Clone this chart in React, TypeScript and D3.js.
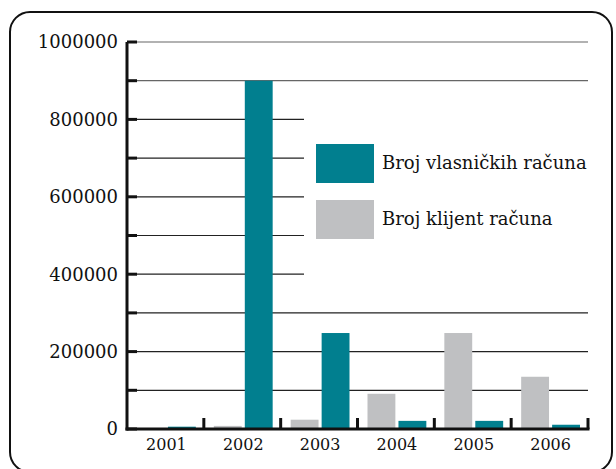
import { useEffect, useRef } from 'react';
import * as d3 from 'd3';

const years = ['2001', '2002', '2003', '2004', '2005', '2006'];
const klijent = [0, 8000, 24000, 91000, 248000, 135000];
const vlasnicki = [6000, 900000, 248000, 21000, 21000, 11000];
const yTicks = [0, 200000, 400000, 600000, 800000, 1000000];
const seriesNames = ['Broj vlasničkih računa', 'Broj klijent računa'];

const TEAL = '#017f8f';
const GREY = '#bfc0c2';

export default function App() {
    const svgRef = useRef<SVGSVGElement>(null);

    useEffect(() => {
        if (!svgRef.current) return;
        const svg = d3.select(svgRef.current);
        svg.selectAll('*').remove();

        const width = 616;
        const height = 469;
        const left = 127, right = 588, top = 42, bottom = 429;
        const font = 'DejaVu Serif';

        svg.attr('width', width).attr('height', height);

        // frame
        svg.append('rect')
            .attr('x', 10).attr('y', 12)
            .attr('width', 602).attr('height', 460)
            .attr('rx', 20)
            .attr('fill', 'white')
            .attr('stroke', '#111')
            .attr('stroke-width', 2);

        const y = d3.scaleLinear().domain([0, 1000000]).range([bottom, top]);
        const x = d3.scaleBand().domain(years).range([left, right]);
        const inner = d3.scaleBand().domain(['k', 'v'])
            .range([10, x.bandwidth() - 8]).paddingInner(0.1);

        // gridlines every 100000
        const grid = d3.range(100000, 1000001, 100000);
        svg.append('g').selectAll('line').data(grid).join('line')
            .attr('x1', left).attr('x2', right)
            .attr('y1', d => y(d)).attr('y2', d => y(d))
            .attr('stroke', d => (d >= 900000 ? '#666' : '#222'))
            .attr('stroke-width', 1.2);

        // legend background hides the middle gridlines
        svg.append('rect')
            .attr('x', 304).attr('y', y(850000))
            .attr('width', right - 304 + 2).attr('height', y(350000) - y(850000))
            .attr('fill', 'white');

        // bars
        const g = svg.append('g');
        years.forEach((yr, i) => {
            const x0 = x(yr)!;
            g.append('rect')
                .attr('x', x0 + inner('k')!)
                .attr('y', y(klijent[i]))
                .attr('width', inner.bandwidth())
                .attr('height', bottom - y(klijent[i]))
                .attr('fill', GREY);
            g.append('rect')
                .attr('x', x0 + inner('v')!)
                .attr('y', y(vlasnicki[i]))
                .attr('width', inner.bandwidth())
                .attr('height', bottom - y(vlasnicki[i]))
                .attr('fill', TEAL);
        });

        // y axis
        svg.append('line')
            .attr('x1', left).attr('x2', left)
            .attr('y1', top).attr('y2', bottom + 1.5)
            .attr('stroke', '#111').attr('stroke-width', 3);
        svg.append('g').selectAll('line').data(d3.range(0, 1000001, 100000)).join('line')
            .attr('x1', left).attr('x2', left + 10)
            .attr('y1', d => y(d)).attr('y2', d => y(d))
            .attr('stroke', '#111').attr('stroke-width', 3);
        svg.append('g').selectAll('text').data(yTicks).join('text')
            .attr('x', left - 9)
            .attr('y', d => y(d))
            .attr('dy', '0.36em')
            .attr('text-anchor', 'end')
            .attr('font-family', font)
            .attr('font-size', 18)
            .attr('fill', '#111')
            .text(d => String(d));

        // x axis
        svg.append('line')
            .attr('x1', left - 1.5).attr('x2', right + 1.5)
            .attr('y1', bottom).attr('y2', bottom)
            .attr('stroke', '#111').attr('stroke-width', 3);
        svg.append('g').selectAll('line').data(years).join('line')
            .attr('x1', d => x(d)! + x.bandwidth()).attr('x2', d => x(d)! + x.bandwidth())
            .attr('y1', bottom).attr('y2', bottom - 11)
            .attr('stroke', '#111').attr('stroke-width', 3);
        svg.append('g').selectAll('text').data(years).join('text')
            .attr('x', d => x(d)! + x.bandwidth() / 2 + 1)
            .attr('y', bottom + 21)
            .attr('text-anchor', 'middle')
            .attr('font-family', font)
            .attr('font-size', 16)
            .attr('fill', '#111')
            .text(d => d);

        // legend
        const legend = svg.append('g').attr('transform', 'translate(316,144)');
        [TEAL, GREY].forEach((c, i) => {
            legend.append('rect')
                .attr('x', 0).attr('y', i * 56)
                .attr('width', 58).attr('height', 39)
                .attr('fill', c);
            legend.append('text')
                .attr('x', 66).attr('y', i * 56 + 19)
                .attr('dy', '0.35em')
                .attr('font-family', font)
                .attr('font-size', 18)
                .attr('fill', '#111')
                .text(seriesNames[i]);
        });
    }, []);

    return (
        <svg ref={svgRef} style={{ position: 'absolute', left: 0, top: 0 }}></svg>
    );
}
